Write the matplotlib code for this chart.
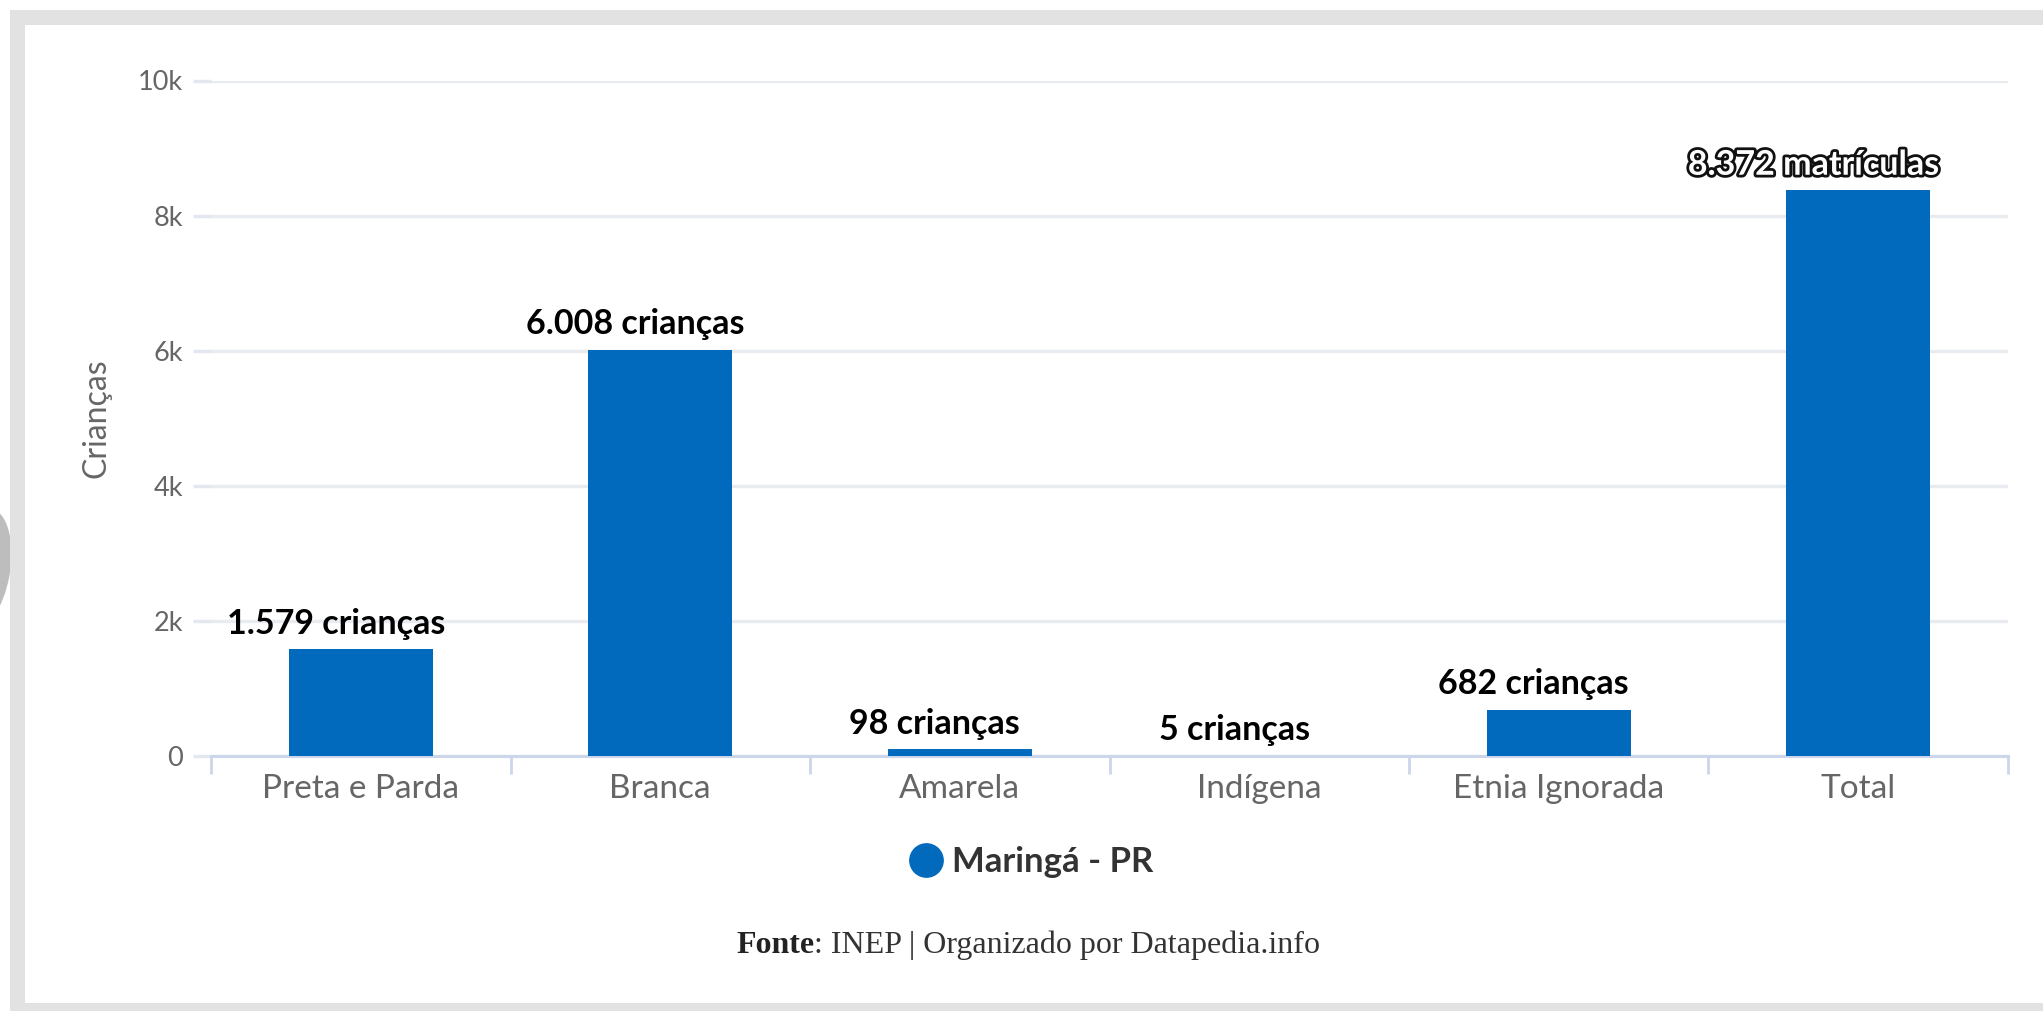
import matplotlib
matplotlib.use("Agg")
import matplotlib.pyplot as plt
import matplotlib.patheffects as pe
from matplotlib.patches import Rectangle, Ellipse
from matplotlib.lines import Line2D
from matplotlib.transforms import IdentityTransform
import numpy as np

# data
categorias = ["Preta e Parda", "Branca", "Amarela", "Indígena", "Etnia Ignorada", "Total"]
valores = [1579, 6008, 98, 5, 682, 8372]
rotulos = ["1.579 crianças", "6.008 crianças", "98 crianças", "5 crianças", "682 crianças", "8.372 matrículas"]
yticks = [0, 2000, 4000, 6000, 8000, 10000]
ytick_labels = ["0", "2k", "4k", "6k", "8k", "10k"]
serie = "Maringá - PR"

W, H = 2043, 1011
fig = plt.figure(figsize=(W / 100, H / 100), dpi=100)
fig.patch.set_facecolor("white")

def px(x0, y0, w, h):
    # pixel box (top-left origin) -> figure fraction
    return (x0 / W, 1 - (y0 + h) / H, w / W, h / H)

# grey frame around the screenshot
grey = "#e2e2e2"
for box in [(10, 10, W - 10, 15), (10, 10, 15, H - 10), (10, 1003, W - 10, 8)]:
    x, y, w, h = px(*box)
    fig.add_artist(Rectangle((x, y), w, h, transform=fig.transFigure,
                             facecolor=grey, edgecolor="none", zorder=5))
# bit of a grey circle peeking in on the left edge
fig.add_artist(Ellipse((-20, H - 570), 60, 125, angle=-10, transform=IdentityTransform(),
                       facecolor="#bdbdbd", edgecolor="none", zorder=4))

ax = fig.add_axes([211 / W, 1 - 756 / H, 1797 / W, 675.5 / H])
x = np.arange(len(categorias))
bars = ax.bar(x, valores, width=0.48, color="#016abd", zorder=3)

ax.set_xlim(-0.5, len(categorias) - 0.5)
ax.set_ylim(0, 10000)

# labels above the bars (they sit a little left of the bar centre in the original)
for i, (b, txt) in enumerate(zip(bars, rotulos)):
    ultimo = i == len(rotulos) - 1
    t = ax.annotate(txt, (b.get_x() + b.get_width() / 2, b.get_height()),
                    xytext=(-32 if ultimo else -18, 7), textcoords="offset points",
                    ha="center", va="bottom", fontsize=24.5,
                    fontweight="bold", family="Lato", color="black", zorder=4)
    if ultimo:
        t.set_color("white")
        t.set_path_effects([pe.withStroke(linewidth=4, foreground="#111111")])

for s in ["top", "right", "left"]:
    ax.spines[s].set_visible(False)
ax.spines["bottom"].set_color("#ccd6eb")
ax.spines["bottom"].set_linewidth(2.2)

ax.set_yticks(yticks)
ax.set_yticklabels(ytick_labels)
ax.grid(axis="y", color="#e8ebf0", linewidth=2.4, zorder=0)
ax.tick_params(axis="y", length=13, width=2.4, color="#e3e7ef", pad=7,
               labelsize=19.5, labelcolor="#666666")
for lab in ax.get_yticklabels():
    lab.set_family("Lato")

ax.set_xticks(x)
ax.set_xticklabels(categorias)
ax.set_xticks(np.arange(len(categorias) + 1) - 0.5, minor=True)
ax.tick_params(axis="x", which="major", length=0, pad=13, labelsize=24, labelcolor="#666666")
ax.tick_params(axis="x", which="minor", length=13, width=2, color="#ccd6eb")
for lab in ax.get_xticklabels():
    lab.set_family("Lato")

ax.set_ylabel("Crianças", fontsize=23, color="#666666", family="Lato")
ax.yaxis.set_label_coords(-0.0556, 0.5)

handle = Line2D([], [], marker="o", linestyle="none", markersize=24,
                markerfacecolor="#016abd", markeredgecolor="#016abd")
leg = fig.legend([handle], [serie], loc="center", bbox_to_anchor=(1031 / W, 1 - 862 / H),
                 frameon=False, handletextpad=0.25, handlelength=1.0,
                 prop={"family": "Lato", "weight": "bold", "size": 25})
for t in leg.get_texts():
    t.set_color("#333333")

# footer
f1 = fig.text(736 / W, 1 - 953 / H, "Fonte", fontsize=23, fontweight="bold",
              family="Liberation Serif", color="#222222", va="baseline")
ax.annotate(": INEP | Organizado por Datapedia.info", xy=(1, 0), xycoords=f1,
            va="bottom", ha="left", fontsize=23, family="Liberation Serif",
            color="#333333", annotation_clip=False)

fig.savefig("out.png", dpi=100, facecolor="white")
